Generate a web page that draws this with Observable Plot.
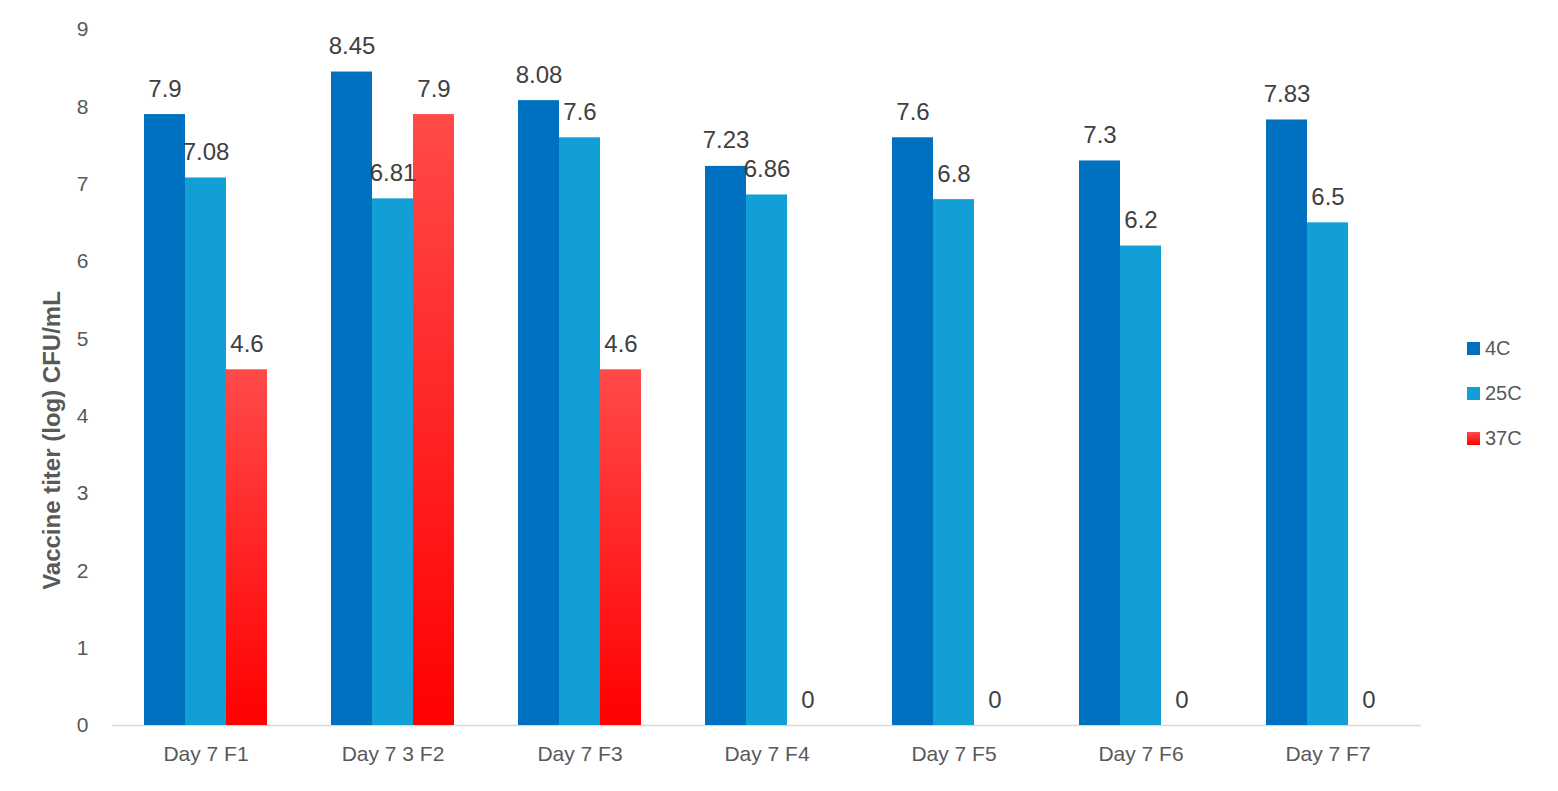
<!DOCTYPE html>
<html>
<head>
<meta charset="utf-8">
<script src="https://cdn.jsdelivr.net/npm/d3@7"></script>
<script src="https://cdn.jsdelivr.net/npm/@observablehq/plot@0.6"></script>
<style>
  html, body { margin: 0; padding: 0; background: #fff; }
  #wrap { position: relative; width: 1558px; height: 791px; font-family: "Liberation Sans", Arial, sans-serif; }
  #legend { position: absolute; left: 1467px; top: 326px; font-size: 20px; color: #595959; }
  #legend .item { display: flex; align-items: center; height: 45px; }
  #legend .sw { width: 13px; height: 13px; margin-right: 5px; }
  svg g[aria-label="y-axis label"], svg g[aria-label="y-axis label"] text { font-weight: bold !important; font-size: 24px !important; }
  svg g[aria-label="y-axis tick label"], svg g[aria-label="y-axis tick label"] text { font-size: 21px !important; }
</style>
</head>
<body>
<div id="wrap"></div>
<script>
const categories = ["Day 7 F1", "Day 7 3 F2", "Day 7 F3", "Day 7 F4", "Day 7 F5", "Day 7 F6", "Day 7 F7"];
const series = ["4C", "25C", "37C"];
const s4C = [7.9, 8.45, 8.08, 7.23, 7.6, 7.3, 7.83];
const s25C = [7.08, 6.81, 7.6, 6.86, 6.8, 6.2, 6.5];
const s37C = [4.6, 7.9, 4.6, 0, 0, 0, 0];
const yTicks = [0, 1, 2, 3, 4, 5, 6, 7, 8, 9];
const colors = ["#0070C0", "#129FD6", "url(#redGrad)"];
const legendColors = ["#0070C0", "#129FD6", "linear-gradient(#ff4a4a, #ff0000)"];

const values = [s4C, s25C, s37C];
const data = [];
categories.forEach((c, i) => {
  series.forEach((s, j) => data.push({category: c, series: s, value: values[j][i]}));
});

const chart = Plot.plot({
  width: 1558,
  height: 791,
  marginLeft: 110,
  marginRight: 135,
  marginTop: 29,
  marginBottom: 66,
  style: {fontFamily: "Liberation Sans, Arial, sans-serif", fontSize: "21px", color: "#595959", background: "#fff"},
  fx: {domain: categories, padding: 0, label: null},
  x: {domain: series, paddingInner: 0, paddingOuter: 0.75, axis: null},
  y: {domain: [0, 9], axis: null},
  color: {domain: series, range: colors, type: "ordinal"},
  marks: [
    Plot.axisY({ticks: yTicks, tickSize: 0, tickPadding: 24, tickFormat: d => String(d), fontSize: 21, label: "Vaccine titer (log) CFU/mL", labelAnchor: "center", labelArrow: "none", labelOffset: 70}),
    Plot.axisFx({anchor: "bottom", tickSize: 0, tickPadding: 21, fontSize: 21, label: null}),
    Plot.ruleY([0], {stroke: "#d9d9d9", strokeWidth: 1.5}),
    Plot.barY(data, {fx: "category", x: "series", y: "value", fill: "series", inset: 0}),
    Plot.text(data, {fx: "category", x: "series", y: "value", text: d => String(d.value), lineAnchor: "bottom", dy: -18, fontSize: 24, fill: "#404040"})
  ]
});

const svg = d3.select(chart);
const defs = svg.insert("defs", ":first-child");
const grad = defs.append("linearGradient").attr("id", "redGrad").attr("x1", 0).attr("y1", 0).attr("x2", 0).attr("y2", 1);
grad.append("stop").attr("offset", "0%").attr("stop-color", "#ff4a4a");
grad.append("stop").attr("offset", "100%").attr("stop-color", "#ff0000");

// shift the y-axis title down to sit where the reference places it
const yl = svg.select('g[aria-label="y-axis label"]');
yl.attr("transform", ((yl.attr("transform") || "") + " translate(0,63)").trim());

const wrap = document.getElementById("wrap");
wrap.appendChild(chart);

const legend = document.createElement("div");
legend.id = "legend";
series.forEach((s, j) => {
  const item = document.createElement("div");
  item.className = "item";
  const sw = document.createElement("div");
  sw.className = "sw";
  sw.style.background = legendColors[j];
  const lab = document.createElement("span");
  lab.textContent = s;
  item.appendChild(sw);
  item.appendChild(lab);
  legend.appendChild(item);
});
wrap.appendChild(legend);
</script>
</body>
</html>
